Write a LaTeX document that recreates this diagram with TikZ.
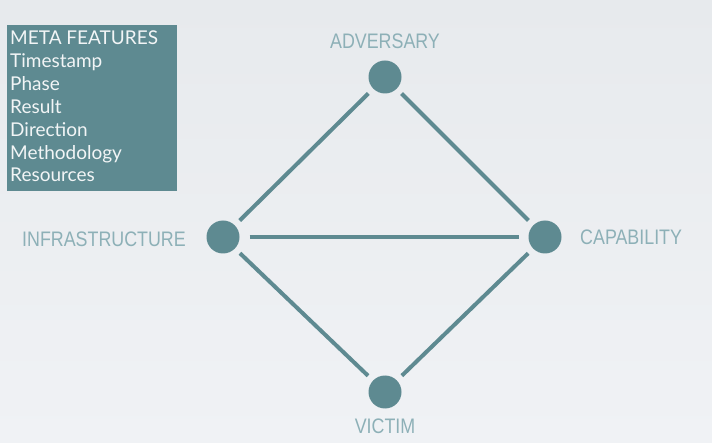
\documentclass[tikz,border=0pt]{standalone}
\usepackage{fontspec}
\setmainfont{Lato}
\newfontfamily\labfont[FakeStretch=0.85]{Liberation Sans}
\definecolor{teal}{HTML}{5E8A91}
\definecolor{labc}{HTML}{8DB0B7}
\definecolor{bgtop}{HTML}{E7EAED}
\definecolor{bgbot}{HTML}{F0F2F5}
\definecolor{metatext}{HTML}{F2F5F6}
\begin{document}
\begin{tikzpicture}[x=1pt,y=-1pt,
  vertex/.style={circle,fill=teal,minimum size=33pt,inner sep=0pt,outer sep=7pt},
  edge/.style={draw=teal,line width=4pt},
  lab/.style={text=labc,font=\labfont\fontsize{21}{24}\selectfont,inner sep=0pt},
  metaline/.style={text=metatext,font=\fontsize{19}{22}\selectfont,inner sep=0pt,anchor=base west}]
\useasboundingbox (0,0) rectangle (712,443);
\shade[top color=bgtop,bottom color=bgbot] (0,0) rectangle (712,443);
% meta box
\fill[teal] (7,25) rectangle (177,191);
\node[metaline] (m1) at (10,45) {META FEATURES};
\node[metaline] (m2) at (10,68) {Timestamp};
\node[metaline] (m3) at (10,91) {Phase};
\node[metaline] (m4) at (10,114) {Result};
\node[metaline] (m5) at (10,137) {Direction};
\node[metaline] (m6) at (10,160) {Methodology};
\node[metaline] (m7) at (10,182) {Resources};
% vertices
\node[vertex] (adv) at (385,77) {};
\node[vertex] (inf) at (223,237) {};
\node[vertex] (cap) at (545,237) {};
\node[vertex] (vic) at (385,392) {};
% edges
\draw[edge] (adv) -- (inf);
\draw[edge] (adv) -- (cap);
\draw[edge,shorten <=3pt,shorten >=3pt] (inf) -- (cap);
\draw[edge] (inf) -- (vic);
\draw[edge] (cap) -- (vic);
% labels
\node[lab,anchor=base] (ladv) at (385,49) {ADVERSARY};
\node[lab,anchor=base east] (linf) at (186,247) {INFRASTRUCTURE};
\node[lab,anchor=base west] (lcap) at (580,245) {CAPABILITY};
\node[lab,anchor=base] (lvic) at (385,433) {VICTIM};
\end{tikzpicture}
\end{document}
